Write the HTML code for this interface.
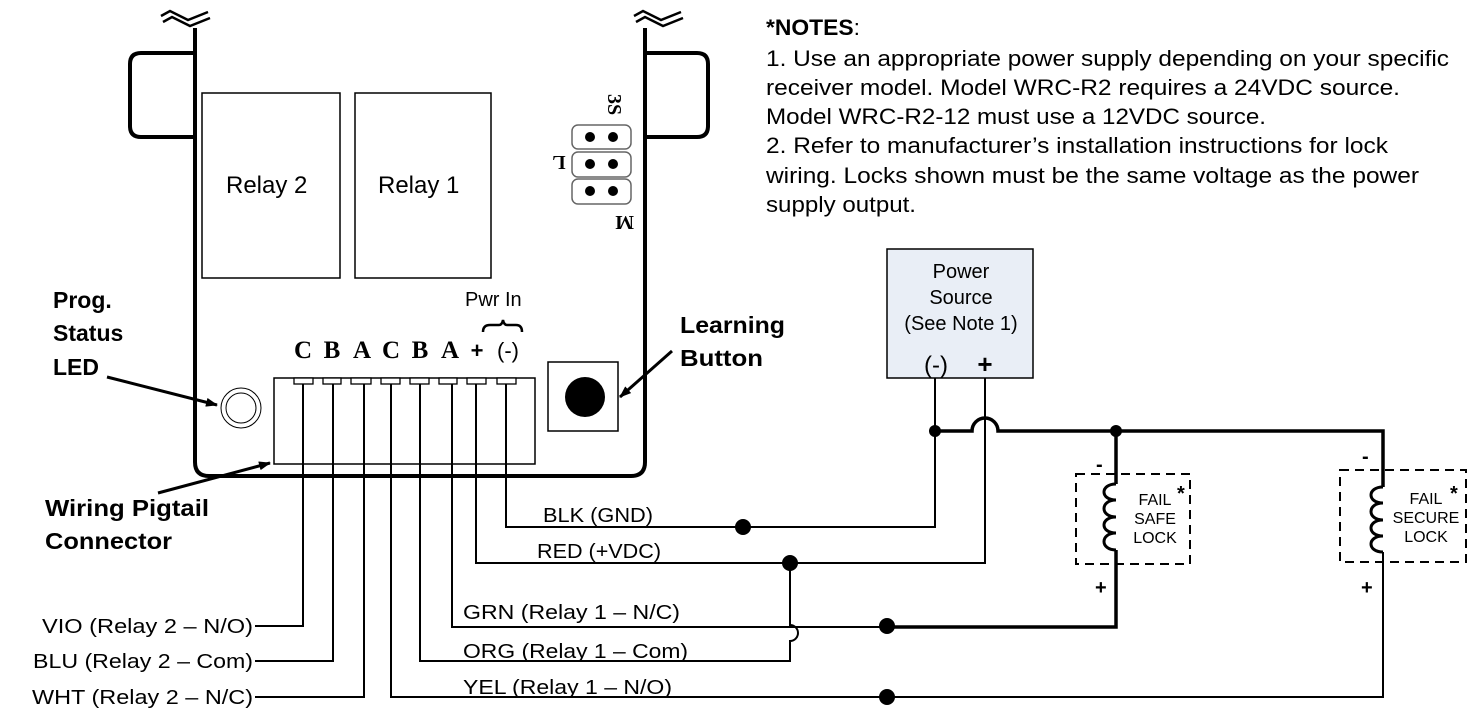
<!DOCTYPE html>
<html><head><meta charset="utf-8"><style>
html,body{margin:0;padding:0;background:#fff;}
svg{display:block;}
text{font-family:"Liberation Sans",sans-serif;fill:#000;}
text.n{font-family:"Liberation Sans Narrow","Liberation Sans",sans-serif;font-size:22px;}
.w{font-size:20px;}
.b{font-weight:bold;font-size:23px;}
text.s{font-family:"Liberation Serif",serif;font-weight:bold;font-size:25px;}
text.r{font-family:"Liberation Serif",serif;font-weight:bold;font-size:20px;}
</style></head><body>
<svg width="1474" height="724" viewBox="0 0 1474 724" xmlns="http://www.w3.org/2000/svg">
<defs><marker id="ar" markerWidth="12" markerHeight="9" refX="11" refY="4.5" orient="auto" markerUnits="userSpaceOnUse"><path d="M0,0 L12,4.5 L0,9 Z" fill="#000"/></marker></defs>
<g fill="none" stroke="#000">
<path d="M195,28 V462 Q195,476 209,476 H631 Q645,476 645,462 V28" stroke-width="4"/>
<path d="M195,53 H141 Q130,53 130,64 V126 Q130,137 141,137 H195" stroke-width="4"/>
<path d="M645,53 H697 Q708,53 708,64 V126 Q708,137 697,137 H645" stroke-width="4"/>
<path d="M161,16 L170,11 L188,20 L208,12 M163,22 L172,17 L190,26 L210,18" stroke-width="2.5"/>
<path d="M634,16 L643,11 L661,20 L681,12 M636,22 L645,17 L663,26 L683,18" stroke-width="2.5"/>
<rect x="202" y="93" width="138" height="185" stroke-width="1.5"/>
<rect x="355" y="93" width="136" height="185" stroke-width="1.5"/>
<rect x="572" y="125" width="59" height="24" rx="6" stroke="#666" stroke-width="1.5"/>
<rect x="572" y="152" width="59" height="25" rx="6" stroke="#666" stroke-width="1.5"/>
<rect x="572" y="179" width="59" height="25" rx="6" stroke="#666" stroke-width="1.5"/>
<circle cx="241" cy="408" r="20" stroke-width="1"/><circle cx="241" cy="408" r="15" stroke-width="1"/>
<rect x="548" y="362" width="70" height="69" stroke-width="1.5"/>
<rect x="274" y="378" width="261" height="86" stroke-width="1.5"/>
<path d="M483,332 Q483,325 490,325 H499 Q502,325 503,320 Q504,325 507,325 H516 Q522,325 522,332" stroke-width="2.5"/>
</g>
<g fill="#000">
<circle cx="590" cy="137" r="5"/><circle cx="613" cy="137" r="5"/>
<circle cx="590" cy="164" r="5"/><circle cx="613" cy="164" r="5"/>
<circle cx="590" cy="191" r="5"/><circle cx="613" cy="191" r="5"/>
<circle cx="585" cy="397" r="20"/>
</g>
<g fill="#fff" stroke="#000" stroke-width="1.3">
<rect x="294" y="378" width="19" height="6"/><rect x="323" y="378" width="18" height="6"/><rect x="351" y="378" width="20" height="6"/><rect x="381" y="378" width="19" height="6"/><rect x="410" y="378" width="19" height="6"/><rect x="439" y="378" width="18" height="6"/><rect x="467" y="378" width="19" height="6"/><rect x="497" y="378" width="19" height="6"/>
</g>
<g fill="none" stroke="#000" stroke-width="2">
<path d="M303,384 V626 H255"/>
<path d="M333,384 V661 H255"/>
<path d="M364,384 V697 H255"/>
<path d="M391,384 V697 H887"/>
<path d="M420,384 V661 H790 V641 A8,8 0 0 0 790,625 V563"/>
<path d="M452,384 V627 H887"/>
<path d="M476,384 V563 H985 V378"/>
<path d="M506,384 V527 H935 V378"/>
<path d="M887,697 H1383 V552"/>
</g>
<g fill="none" stroke="#000" stroke-width="3.5">
<path d="M887,627 H1116 V550"/>
<path d="M935,431 H972 A13,13 0 0 1 998,431 H1383 V487"/>
<path d="M1116,431 V484"/>
<path d="M1116,484 C1100,484 1100,500 1116,500 C1100,500 1100,517 1116,517 C1100,517 1100,533 1116,533 C1100,533 1100,550 1116,550" stroke-width="3"/>
<path d="M1383,487 C1367,487 1367,503 1383,503 C1367,503 1367,520 1383,520 C1367,520 1367,536 1383,536 C1367,536 1367,552 1383,552" stroke-width="3"/>
</g>
<g fill="none" stroke="#000" stroke-width="2" stroke-dasharray="9,6">
<rect x="1076" y="474" width="114" height="90"/>
<rect x="1340" y="470" width="126" height="92"/>
</g>
<g fill="#000">
<circle cx="743" cy="527" r="8"/><circle cx="790" cy="563" r="8"/><circle cx="887" cy="626" r="8"/><circle cx="887" cy="697" r="8"/>
<circle cx="935" cy="431" r="6"/><circle cx="1116" cy="431" r="6"/>
</g>
<rect x="887" y="249" width="146" height="129" fill="#e9eef6" stroke="#000" stroke-width="1.5"/>
<g text-anchor="middle">
<text class="n" x="961" y="278" style="font-size:20px">Power</text><text class="n" x="961" y="304" style="font-size:20px">Source</text><text class="n" x="961" y="330" style="font-size:20px">(See Note 1)</text>
<text class="n" x="936" y="373" style="font-size:24px">(-)</text>
</g>
<text x="985" y="373" text-anchor="middle" style="font-size:26px;font-weight:bold">+</text>
<g stroke="#000" stroke-width="3" fill="none">
<line x1="107" y1="377" x2="217" y2="405" marker-end="url(#ar)"/>
<line x1="672" y1="351" x2="620" y2="397" marker-end="url(#ar)"/>
<line x1="158" y1="493" x2="270" y2="463" marker-end="url(#ar)"/>
</g>
<text x="226" y="193" style="font-size:24px">Relay 2</text>
<text x="378" y="193" style="font-size:24px">Relay 1</text>
<g text-anchor="middle">
<text class="s" x="303" y="358">C</text><text class="s" x="332" y="358">B</text><text class="s" x="362" y="358">A</text>
<text class="s" x="391" y="358">C</text><text class="s" x="420" y="358">B</text><text class="s" x="450" y="358">A</text>
</g>
<text x="477" y="358" text-anchor="middle" style="font-size:22px;font-weight:bold">+</text>
<text x="497" y="358" style="font-size:22px">(-)</text>
<text x="465" y="306" style="font-size:20px">Pwr In</text>
<text class="r" transform="translate(608,94) rotate(90)">3S</text>
<text class="r" transform="translate(559,156) rotate(180)" text-anchor="middle">L</text>
<text class="r" transform="translate(634,216) rotate(180)">M</text>
<text class="b" x="53" y="308">Prog.</text>
<text class="b" x="53" y="341">Status</text>
<text class="b" x="53" y="375">LED</text>
<text class="b" x="680" y="333" textLength="105" lengthAdjust="spacingAndGlyphs">Learning</text>
<text class="b" x="680" y="366" textLength="83" lengthAdjust="spacingAndGlyphs">Button</text>
<text class="b" x="45" y="516" textLength="164" lengthAdjust="spacingAndGlyphs">Wiring Pigtail</text>
<text class="b" x="45" y="549" textLength="127" lengthAdjust="spacingAndGlyphs">Connector</text>
<g class="w">
<text x="42" y="633" textLength="211" lengthAdjust="spacingAndGlyphs">VIO (Relay 2 – N/O)</text>
<text x="33" y="668" textLength="220" lengthAdjust="spacingAndGlyphs">BLU (Relay 2 – Com)</text>
<text x="32" y="704" textLength="221" lengthAdjust="spacingAndGlyphs">WHT (Relay 2 – N/C)</text>
<text x="543" y="522" textLength="110" lengthAdjust="spacingAndGlyphs">BLK (GND)</text>
<text x="537" y="558" textLength="124" lengthAdjust="spacingAndGlyphs">RED (+VDC)</text>
<text x="463" y="619" textLength="217" lengthAdjust="spacingAndGlyphs">GRN (Relay 1 – N/C)</text>
<text x="463" y="658" textLength="225" lengthAdjust="spacingAndGlyphs">ORG (Relay 1 – Com)</text>
<text x="463" y="694" textLength="209" lengthAdjust="spacingAndGlyphs">YEL (Relay 1 – N/O)</text>
</g>
<text class="n" x="766" y="35" textLength="94" lengthAdjust="spacingAndGlyphs"><tspan font-weight="bold">*NOTES</tspan>:</text>
<text class="n" x="766" y="66" textLength="683" lengthAdjust="spacingAndGlyphs">1.  Use an appropriate power supply depending on your specific</text>
<text class="n" x="766" y="95" textLength="634" lengthAdjust="spacingAndGlyphs">receiver model.  Model WRC-R2 requires a 24VDC source.</text>
<text class="n" x="766" y="124" textLength="500" lengthAdjust="spacingAndGlyphs">Model WRC-R2-12 must use a 12VDC source.</text>
<text class="n" x="766" y="153" textLength="622" lengthAdjust="spacingAndGlyphs">2.  Refer to manufacturer’s installation instructions for lock</text>
<text class="n" x="766" y="183" textLength="653" lengthAdjust="spacingAndGlyphs">wiring.  Locks shown must be the same voltage as the power</text>
<text class="n" x="766" y="212" textLength="150" lengthAdjust="spacingAndGlyphs">supply output.</text>
<g style="font-size:16px" text-anchor="middle">
<text x="1155" y="505">FAIL</text><text x="1155" y="524">SAFE</text><text x="1155" y="543">LOCK</text>
<text x="1426" y="504">FAIL</text><text x="1426" y="523">SECURE</text><text x="1426" y="542">LOCK</text>
</g>
<g style="font-size:20px;font-weight:bold">
<text x="1177" y="500">*</text><text x="1450" y="500">*</text>
<text x="1096" y="471">-</text><text x="1362" y="463">-</text>
<text x="1095" y="594">+</text><text x="1361" y="594">+</text>
</g>
</svg>
</body></html>
